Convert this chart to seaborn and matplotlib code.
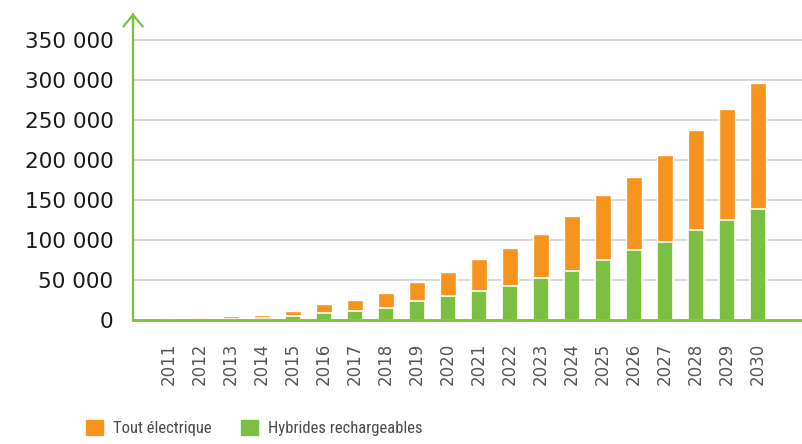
import numpy as np
import pandas as pd
import seaborn as sns
import matplotlib.pyplot as plt
from matplotlib.ticker import FuncFormatter, MultipleLocator
from matplotlib.patches import Patch

years = [str(y) for y in range(2011, 2031)]
hybrides = [0, 500, 800, 2300, 4000, 8100, 10600, 14800, 23300, 30000,
            36000, 42300, 52300, 61100, 74900, 87400, 97400, 112400, 125000, 138700]
total = [0, 3100, 4400, 6000, 10600, 19400, 24400, 33200, 47000, 59500,
         75700, 89500, 107000, 129600, 155900, 178400, 206000, 237300, 263600, 296100]

orange = "#F7941D"
green = "#7BC043"

df = pd.DataFrame({"annee": years, "hybrides": hybrides, "total": total})

sns.set_style("white")
plt.rcParams['font.family'] = ['DejaVu Sans']

fig = plt.figure(figsize=(8.03, 4.44), dpi=100)
ax = fig.add_axes([133/803, 1-319.5/444, 1-133/803, (319.5-14)/444])

# total bar in orange, plug-in hybrids drawn over it
sns.barplot(data=df, x="annee", y="total", order=years, color=orange,
            width=0.52, saturation=1, ax=ax, zorder=3)
sns.barplot(data=df, x="annee", y="hybrides", order=years, color=green,
            width=0.52, saturation=1, edgecolor="white", linewidth=1.2,
            ax=ax, zorder=4)

ax.set_xlim(-1.16, 20.45)
ax.set_ylim(0, 382000)
ax.yaxis.set_major_locator(MultipleLocator(50000))
ax.yaxis.set_major_formatter(FuncFormatter(lambda v, p: f"{v:,.0f}".replace(",", " ")))
ax.grid(axis="y", color="#cfcfcf", lw=1.1, zorder=0)
ax.set_axisbelow(True)

for s in ["top", "right"]:
    ax.spines[s].set_visible(False)
ax.spines["left"].set_color(green)
ax.spines["left"].set_linewidth(1.6)
ax.spines["bottom"].set_color(green)
ax.spines["bottom"].set_linewidth(2.0)
ax.spines["bottom"].set_zorder(5)

ax.annotate("", xy=(0, 1.003), xytext=(0, 0.95), xycoords="axes fraction",
            arrowprops=dict(arrowstyle="->,head_length=0.85,head_width=0.7",
                            color=green, lw=1.6, shrinkA=0, shrinkB=0),
            annotation_clip=False)

ax.set_xlabel("")
ax.set_ylabel("")
ax.tick_params(axis="y", length=0, pad=14, labelsize=15.5, labelcolor="#1a1a1a")
ax.tick_params(axis="x", length=0, pad=17, labelsize=12, labelcolor="#555555",
               labelrotation=90)

handles = [Patch(color=orange), Patch(color=green)]
fig.legend(handles, ["Tout électrique", "Hybrides rechargeables"],
           loc="upper left", bbox_to_anchor=(86/803, 1-420/444), ncol=2,
           frameon=False, borderpad=0, borderaxespad=0, handlelength=1.0,
           handleheight=1.0, handletextpad=0.6, columnspacing=1.8,
           prop={"family": ["Roboto Condensed", "Roboto"], "size": 12},
           labelcolor="#4a4a4a")

plt.savefig("out.png", dpi=100)
